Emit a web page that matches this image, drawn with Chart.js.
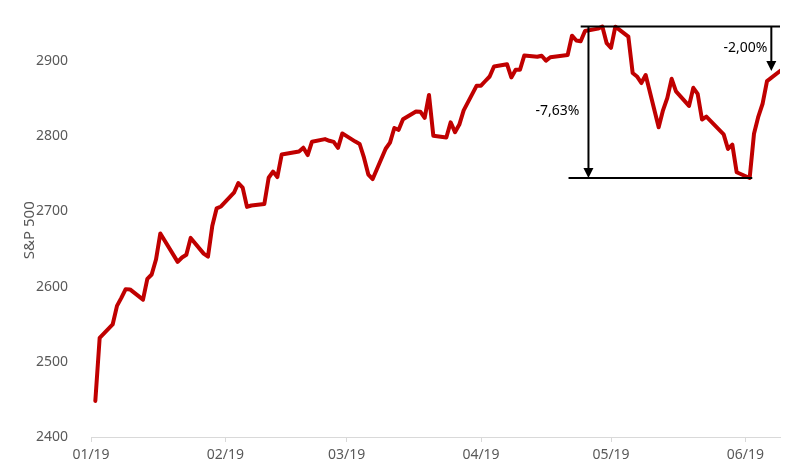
<!DOCTYPE html>
<html>
<head>
<meta charset="utf-8">
<script src="https://cdn.jsdelivr.net/npm/chart.js@4.4.1/dist/chart.umd.min.js"></script>
<style>
  html, body { margin: 0; padding: 0; background: #fff; }
</style>
</head>
<body>
<canvas id="myChart" width="798" height="474"></canvas>
<script>
// S&P 500 daily closes, 2019 (MM-DD)
const dates = [
    '01-03','01-04','01-07','01-08','01-09','01-10','01-11','01-14','01-15','01-16','01-17','01-18',
    '01-22','01-23','01-24','01-25','01-28','01-29','01-30','01-31','02-01','02-04','02-05','02-06',
    '02-07','02-08','02-11','02-12','02-13','02-14','02-15','02-19','02-20','02-21','02-22','02-25',
    '02-26','02-27','02-28','03-01','03-04','03-05','03-06','03-07','03-08','03-11','03-12','03-13',
    '03-14','03-15','03-18','03-19','03-20','03-21','03-22','03-25','03-26','03-27','03-28','03-29',
    '04-01','04-02','04-03','04-04','04-05','04-08','04-09','04-10','04-11','04-12','04-15','04-16',
    '04-17','04-18','04-22','04-23','04-24','04-25','04-26','04-29','04-30','05-01','05-02','05-03',
    '05-06','05-07','05-08','05-09','05-10','05-13','05-14','05-15','05-16','05-17','05-20','05-21',
    '05-22','05-23','05-24','05-28','05-29','05-30','05-31','06-03','06-04','06-05','06-06','06-07',
    '06-10'
];
const closes = [
    2447.89, 2531.94, 2549.69, 2574.41, 2584.96, 2596.64, 2596.26, 2582.61, 2610.30, 2616.10, 2635.96, 2670.71,
    2632.90, 2638.70, 2642.33, 2664.76, 2643.85, 2640.00, 2681.05, 2704.10, 2706.53, 2724.87, 2737.70, 2731.61,
    2706.05, 2707.88, 2709.80, 2744.73, 2753.03, 2745.73, 2775.60, 2779.76, 2784.70, 2774.88, 2792.67, 2796.11,
    2793.90, 2792.38, 2784.49, 2803.69, 2792.81, 2789.65, 2771.45, 2748.93, 2743.07, 2783.30, 2791.52, 2810.92,
    2808.48, 2822.48, 2832.94, 2832.57, 2824.23, 2854.88, 2800.71, 2798.36, 2818.46, 2805.37, 2815.44, 2834.40,
    2867.19, 2867.24, 2873.40, 2879.39, 2892.74, 2895.77, 2878.20, 2888.21, 2888.32, 2907.41, 2905.58, 2907.06,
    2900.45, 2905.03, 2907.97, 2933.68, 2927.25, 2926.17, 2939.88, 2943.03, 2945.83, 2923.73, 2917.52, 2945.64,
    2932.47, 2884.05, 2879.42, 2870.72, 2881.40, 2811.87, 2834.41, 2850.96, 2876.32, 2859.53, 2840.23, 2864.36,
    2856.27, 2822.24, 2826.06, 2802.39, 2783.02, 2788.86, 2752.06, 2744.45, 2803.27, 2826.15, 2843.49, 2873.34,
    2886.73
];

// x axis ticks (day of year, Jan 1 = 1) and their labels
const monthTicks = [2, 33, 61, 92, 122, 153];
const monthLabels = ['01/19', '02/19', '03/19', '04/19', '05/19', '06/19'];
const yTicks = [2400, 2500, 2600, 2700, 2800, 2900];

// drawdown annotations
const dropLabels = ['-7,63%', '-2,00%'];

function dayOfYear(md) {
    const [m, d] = md.split('-').map(Number);
    return (Date.UTC(2019, m - 1, d) - Date.UTC(2019, 0, 1)) / 86400000 + 1;
}

const points = dates.map((d, i) => ({ x: dayOfYear(d), y: closes[i] }));

const peakValue = Math.max(...closes);
const peakIndex = closes.indexOf(peakValue);
const troughValue = Math.min(...closes.slice(peakIndex));
const lastValue = closes[closes.length - 1];

const FONT = '"Noto Sans", "Open Sans", sans-serif';

const drawdownPlugin = {
    id: 'drawdown',
    afterDatasetsDraw(chart) {
        const ctx = chart.ctx;
        const xs = chart.scales.x, ys = chart.scales.y;
        ctx.save();
        ctx.strokeStyle = '#000';
        ctx.fillStyle = '#000';
        ctx.lineWidth = 2;

        function hline(value, d1, d2) {
            const yy = ys.getPixelForValue(value);
            ctx.beginPath();
            ctx.moveTo(xs.getPixelForValue(d1), yy);
            ctx.lineTo(xs.getPixelForValue(d2), yy);
            ctx.stroke();
        }
        function arrow(day, from, to) {
            const xx = xs.getPixelForValue(day);
            const y1 = ys.getPixelForValue(from);
            const y2 = ys.getPixelForValue(to);
            ctx.beginPath();
            ctx.moveTo(xx, y1);
            ctx.lineTo(xx, y2 - 8);
            ctx.stroke();
            ctx.beginPath();
            ctx.moveTo(xx - 5, y2 - 10);
            ctx.lineTo(xx + 5, y2 - 10);
            ctx.lineTo(xx, y2);
            ctx.closePath();
            ctx.fill();
        }

        hline(peakValue, 115, 161);
        hline(troughValue, 112.2, 154.6);
        arrow(116.8, peakValue, troughValue);
        arrow(159, peakValue, lastValue);

        ctx.font = '14px ' + FONT;
        ctx.textAlign = 'right';
        ctx.textBaseline = 'middle';
        ctx.fillText(dropLabels[0], xs.getPixelForValue(116.8) - 9, ys.getPixelForValue(2833));
        ctx.fillText(dropLabels[1], xs.getPixelForValue(159) - 4, ys.getPixelForValue(2917));
        ctx.restore();
    }
};

const ctx = document.getElementById('myChart').getContext('2d');
new Chart(ctx, {
    type: 'line',
    data: {
        datasets: [{
            label: 'S&P 500',
            data: points,
            borderColor: '#C00000',
            borderWidth: 4,
            borderCapStyle: 'round',
            borderJoinStyle: 'round',
            pointRadius: 0,
            tension: 0,
            fill: false
        }]
    },
    options: {
        responsive: false,
        animation: false,
        devicePixelRatio: 1,
        layout: { padding: { left: 18, top: 18, right: 18, bottom: 0 } },
        plugins: {
            legend: { display: false },
            tooltip: { enabled: false }
        },
        scales: {
            x: {
                type: 'linear',
                min: 2,
                max: 161,
                afterBuildTicks: scale => {
                    scale.ticks = monthTicks.map(v => ({ value: v }));
                },
                afterFit: scale => { scale.height = 37; },
                ticks: {
                    autoSkip: false,
                    maxRotation: 0,
                    padding: 5,
                    color: '#595959',
                    font: { family: FONT, size: 14 },
                    callback: (value) => monthLabels[monthTicks.indexOf(value)]
                },
                grid: {
                    drawOnChartArea: false,
                    drawTicks: true,
                    tickLength: 5,
                    color: '#D9D9D9'
                },
                border: { display: true, color: '#D9D9D9', width: 1 }
            },
            y: {
                min: 2400,
                max: 2950,
                afterBuildTicks: scale => {
                    scale.ticks = yTicks.map(v => ({ value: v }));
                },
                afterFit: scale => { scale.width = 73; },
                ticks: {
                    padding: 15,
                    color: '#595959',
                    font: { family: FONT, size: 14 },
                    callback: (value) => String(value)
                },
                grid: { display: false },
                border: { display: false },
                title: {
                    display: true,
                    text: 'S&P 500',
                    color: '#595959',
                    font: { family: FONT, size: 15 },
                    padding: { top: 3, bottom: 4 }
                }
            }
        }
    },
    plugins: [drawdownPlugin]
});
</script>
</body>
</html>
